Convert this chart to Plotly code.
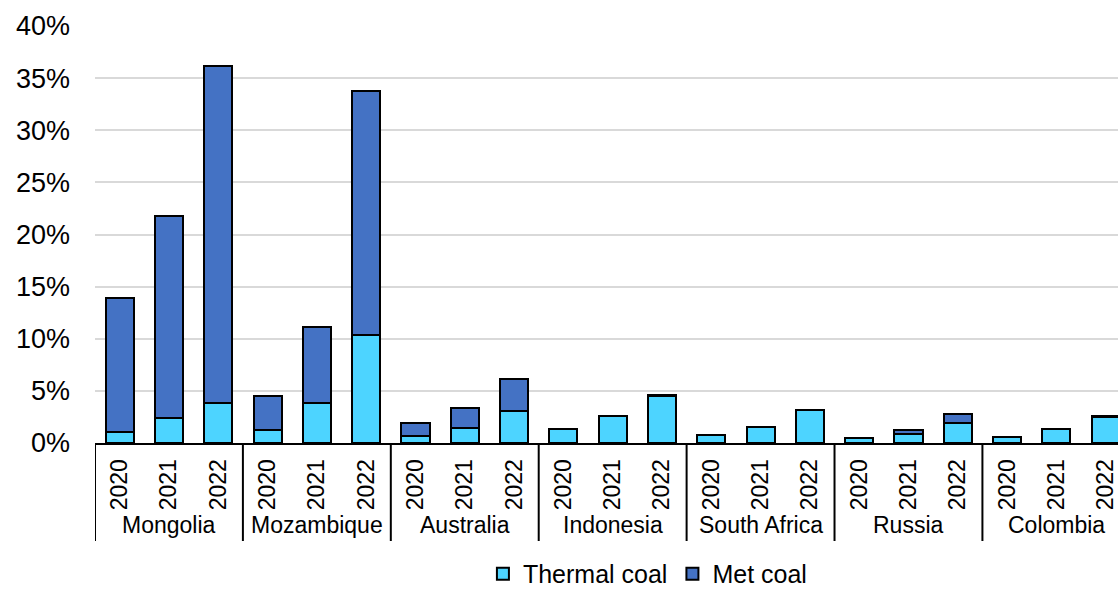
import plotly.graph_objects as go

# Share of exports, by country and year (percent)
countries = ["Mongolia", "Mozambique", "Australia", "Indonesia",
             "South Africa", "Russia", "Colombia"]
years = ["2020", "2021", "2022"]

thermal_coal = [1.1, 2.4, 3.8,
                1.2, 3.8, 10.4,
                0.7, 1.4, 3.1,
                1.3, 2.55, 4.5,
                0.8, 1.5, 3.2,
                0.45, 0.85, 1.9,
                0.55, 1.35, 2.45]
met_coal = [12.8, 19.4, 32.4,
            3.3, 7.3, 23.4,
            1.2, 2.0, 3.0,
            0.05, 0.0, 0.1,
            0.0, 0.0, 0.0,
            0.05, 0.4, 0.9,
            0.0, 0.0, 0.15]

y_ticks = [0, 5, 10, 15, 20, 25, 30, 35, 40]

FONT = "Liberation Sans, Arial, sans-serif"
n_years = len(years)
xs = list(range(len(countries) * n_years))
year_labels = [y for _ in countries for y in years]

fig = go.Figure()
fig.add_trace(go.Bar(
    x=xs, y=thermal_coal, name="Thermal coal",
    marker=dict(color="#4DD4FF", line=dict(color="black", width=2)),
    width=0.57,
))
fig.add_trace(go.Bar(
    x=xs, y=met_coal, name="Met coal",
    marker=dict(color="#4472C4", line=dict(color="black", width=2)),
    width=0.57,
))

# Country group labels and dividers below the axis
for i, c in enumerate(countries):
    centre = i * n_years + (n_years - 1) / 2
    fig.add_annotation(
        x=centre, y=-0.197, xref="x", yref="paper",
        text=c, showarrow=False, yanchor="middle",
        font=dict(family=FONT, size=23, color="black"),
    )
    fig.add_shape(
        type="line", xref="x", yref="paper",
        x0=i * n_years - 0.5, x1=i * n_years - 0.5, y0=0, y1=-0.235,
        line=dict(color="black", width=2),
    )

fig.update_layout(
    barmode="stack",
    width=1118, height=589,
    margin=dict(l=95, r=0, t=26, b=146, autoexpand=False),
    plot_bgcolor="white", paper_bgcolor="white",
    font=dict(family=FONT, color="black"),
    showlegend=True,
    legend=dict(
        orientation="h", x=0.54, xanchor="center",
        y=-0.314, yanchor="middle", traceorder="normal",
        font=dict(family=FONT, size=25, color="black"),
        itemwidth=30,
    ),
    xaxis=dict(
        range=[-0.5, 20.25],
        tickmode="array", tickvals=xs, ticktext=year_labels,
        tickangle=-90, ticks="", automargin=False,
        ticklabeloverflow="allow",
        tickfont=dict(family=FONT, size=23, color="black"),
        ticklabelstandoff=5,
        showline=True, linecolor="black", linewidth=2,
        showgrid=False, zeroline=False,
    ),
    yaxis=dict(
        range=[0, 40],
        tickmode="array", tickvals=y_ticks,
        ticktext=[f"{v}%" for v in y_ticks],
        tickfont=dict(family=FONT, size=27, color="black"),
        ticks="", ticklabelstandoff=24, automargin=False,
        showgrid=True, gridcolor="#D9D9D9", gridwidth=2,
        zeroline=False, showline=False,
    ),
)

fig.write_html("out.html")
